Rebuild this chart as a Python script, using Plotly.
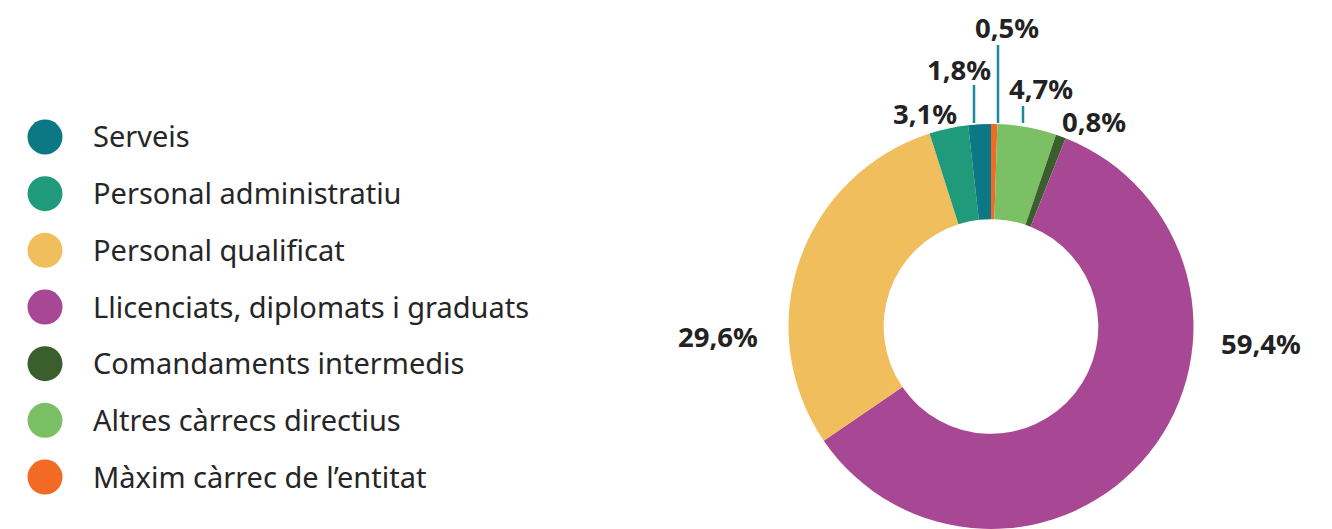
import plotly.graph_objects as go

categories = ["Serveis", "Personal administratiu", "Personal qualificat",
              "Llicenciats, diplomats i graduats", "Comandaments intermedis",
              "Altres càrrecs directius", "Màxim càrrec de l’entitat"]
values = [1.8, 3.1, 29.6, 59.4, 0.8, 4.7, 0.5]
colors = ["#0d7885", "#1f9a7a", "#f0be5c", "#a84894", "#3a5f2c", "#7cc066", "#f26a24"]

# the page body has an 8px margin; work in page pixels and convert
OX, OY = 8, 8
W, H = 1332 - OX, 529 - OY
def px(x): return (x - OX) / W
def py(y): return 1 - (y - OY) / H

# label centre positions (page pixels) for each category's percentage label
label_pos = [(959, 69), (925, 113), (718, 336), (1261, 343), (1094, 121), (1041, 88), (1007, 28)]
# leader lines (category index -> x, y_top, y_bottom in page pixels)
leaders = {0: (974, 85, 123), 5: (1023, 106, 123), 6: (998, 45, 123)}

fig = go.Figure()
fig.add_trace(go.Pie(
    labels=categories[::-1], values=values[::-1], sort=False, direction="clockwise",
    rotation=0, hole=0.53, textinfo="none", hoverinfo="label+percent",
    marker=dict(colors=colors[::-1], line=dict(width=0)),
    domain=dict(x=[px(788), px(1194)], y=[0, 405 / H]), showlegend=False,
))

# legend drawn as a scatter on a hidden axis
idx = list(range(len(categories)))
fig.add_trace(go.Scatter(
    x=[45] * len(idx), y=idx, mode="markers",
    marker=dict(size=35, color=colors, line=dict(width=0)),
    hoverinfo="skip", showlegend=False, xaxis="x", yaxis="y",
))

step = 56.67
top_idx0 = 137  # page y of first legend row
fy0 = top_idx0 - OY
fig.update_layout(
    width=W, height=H, margin=dict(l=0, r=0, t=0, b=0),
    paper_bgcolor="white", plot_bgcolor="white",
    xaxis=dict(domain=[0, 0.5], range=[OX, OX + W * 0.5], visible=False, fixedrange=True),
    yaxis=dict(domain=[0, 1], range=[(H - fy0) / step, -fy0 / step],
               visible=False, fixedrange=True),
    font=dict(family="Noto Sans, sans-serif", color="#222222"),
)

annotations = []
for i, c in enumerate(categories):
    annotations.append(dict(
        x=px(91), y=py(top_idx0 - 1 + i * step), xref="paper", yref="paper",
        text=c, showarrow=False, xanchor="left", yanchor="middle",
        font=dict(size=29, family="Noto Sans, sans-serif", color="#262626"),
    ))
for i, v in enumerate(values):
    lx, ly = label_pos[i]
    annotations.append(dict(
        x=px(lx), y=py(ly), xref="paper", yref="paper",
        text=f"<b>{v:.1f}%</b>".replace(".", ","), showarrow=False,
        xanchor="center", yanchor="middle",
        font=dict(size=27.5, family="Noto Sans, sans-serif", color="#222222"),
    ))
shapes = []
for i, (lx, y0, y1) in leaders.items():
    shapes.append(dict(type="line", xref="paper", yref="paper",
                       x0=px(lx), x1=px(lx), y0=py(y0), y1=py(y1),
                       line=dict(color="#1b8a99", width=2.5)))
fig.update_layout(annotations=annotations, shapes=shapes)

fig.write_html("out.html")
